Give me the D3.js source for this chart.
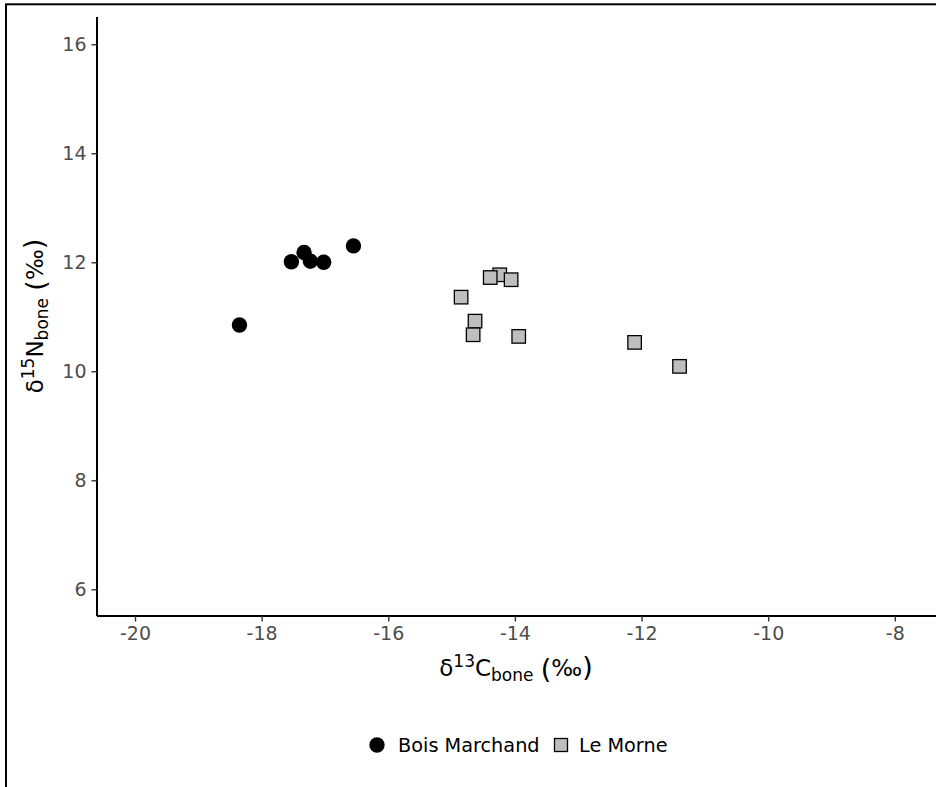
<!DOCTYPE html>
<meta charset="utf-8">
<style>
  body { margin: 0; background: #fff; }
  text { font-family: "DejaVu Sans", sans-serif; }
  .tick text { fill: #4d4d4d; font-size: 19px; }
  .tick line { stroke: #333; stroke-width: 1.4px; }
  .domain { stroke: #000; stroke-width: 2px; }
</style>
<svg width="936" height="787"></svg>
<script src="https://cdn.jsdelivr.net/npm/d3@7"></script>
<script>

  // Bois Marchand (circles)
  var boisC = [-18.35, -17.53, -17.33, -17.23, -17.02, -16.55];
  var boisN = [10.85, 12.01, 12.18, 12.02, 12.00, 12.30];

  // Le Morne (squares)
  var morneC = [-14.85, -14.63, -14.66, -13.94, -14.24, -14.39, -14.06, -12.11, -11.40];
  var morneN = [11.36, 10.92, 10.67, 10.64, 11.77, 11.72, 11.68, 10.53, 10.09];

  var xTicks = [-20, -18, -16, -14, -12, -10, -8];
  var yTicks = [6, 8, 10, 12, 14, 16];
  var groups = ["Bois Marchand", "Le Morne"];

  var svg = d3.select("svg");

  // outer frame (runs off right and bottom edges)
  svg.append("rect")
        .attr("x", 6).attr("y", 4.3)
        .attr("width", 2000).attr("height", 2000)
        .attr("fill", "none")
        .attr("stroke", "#000")
        .attr("stroke-width", 2);

  var x = d3.scaleLinear().domain([-20.6, -7.35]).range([97, 936]);
  var y = d3.scaleLinear().domain([5.51, 16.5]).range([616, 17]);

  var xAxis = svg.append("g")
        .attr("transform", "translate(0,616)")
        .call(d3.axisBottom(x).tickValues(xTicks).tickSize(5.5).tickPadding(5)
              .tickFormat(function (d) { return d3.format("d")(d).replace("−", "-"); }));
  xAxis.select(".domain").attr("d", "M97,0H1000");

  var yAxis = svg.append("g")
        .attr("transform", "translate(97,0)")
        .call(d3.axisLeft(y).tickValues(yTicks).tickSize(5.5).tickPadding(5));
  yAxis.select(".domain").attr("d", "M0,17V616");

  // points
  var bois = boisC.map(function (c, i) { return {c: c, n: boisN[i]}; });
  var morne = morneC.map(function (c, i) { return {c: c, n: morneN[i]}; });

  svg.append("g").selectAll("circle")
        .data(bois)
        .enter().append("circle")
        .attr("cx", function (d) { return x(d.c); })
        .attr("cy", function (d) { return y(d.n); })
        .attr("r", 7.7)
        .attr("fill", "#000");

  var s = 13.5;
  svg.append("g").selectAll("rect")
        .data(morne)
        .enter().append("rect")
        .attr("x", function (d) { return x(d.c) - s / 2; })
        .attr("y", function (d) { return y(d.n) - s / 2; })
        .attr("width", s).attr("height", s)
        .attr("fill", "#bebebe")
        .attr("stroke", "#000")
        .attr("stroke-width", 1.3);

  // axis titles (plotmath-like, with big parentheses)
  function title(t, iso, el) {
    t.append("tspan").text("δ");
    t.append("tspan").attr("dy", -9).style("font-size", "17px").text(iso);
    t.append("tspan").attr("dy", 9).text(el);
    t.append("tspan").attr("dy", 5).style("font-size", "17px").text("bone");
    t.append("tspan").attr("dy", -3).text(" ");
    t.append("tspan").attr("dy", 0).style("font-size", "27px").text("(");
    t.append("tspan").attr("dy", -2).text("‰");
    t.append("tspan").attr("dy", 0).style("font-size", "27px").text(")");
  }

  var xt = svg.append("text")
        .attr("x", 516).attr("y", 676)
        .attr("text-anchor", "middle")
        .style("font-size", "23px");
  title(xt, "13", "C");

  var yt = svg.append("text")
        .attr("transform", "translate(43,316) rotate(-90)")
        .attr("text-anchor", "middle")
        .style("font-size", "23px");
  title(yt, "15", "N");

  // legend
  var leg = svg.append("g");
  leg.append("circle").attr("cx", 377).attr("cy", 745).attr("r", 7.7).attr("fill", "#000");
  leg.append("text").attr("x", 398).attr("y", 752.3).style("font-size", "19.3px").text(groups[0]);
  leg.append("rect").attr("x", 561 - 6.5).attr("y", 745 - 6.5).attr("width", 13).attr("height", 13)
        .attr("fill", "#bebebe").attr("stroke", "#000").attr("stroke-width", 1.3);
  leg.append("text").attr("x", 579).attr("y", 752.3).style("font-size", "19.3px").text(groups[1]);

</script>
